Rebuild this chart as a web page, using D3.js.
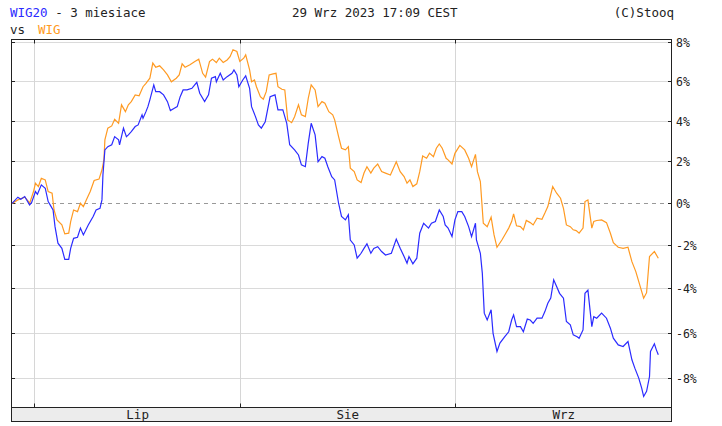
<!DOCTYPE html>
<html>
<head>
<meta charset="utf-8">
<script src="https://cdn.jsdelivr.net/npm/d3@7"></script>
<style>
  body { margin: 0; background: #fff; }
  text { font-family: "DejaVu Sans Mono", monospace; fill: #222; }
</style>
</head>
<body>
<div id="chart"></div>
<script>
// data: [session index, % change]
var wig20 = [[0,0.0],[0.6,0.30],[0.9,0.20],[1.3,0.33],[1.8,-0.07],[2.0,0.04],[2.4,0.57],[2.6,0.44],[3.0,0.89],[3.4,0.73],[3.7,0.09],[3.9,-0.07],[4.2,-0.31],[4.4,-1.10],[4.7,-1.88],[5.1,-2.12],[5.4,-2.63],[5.8,-2.63],[6.0,-2.12],[6.3,-1.65],[6.7,-1.60],[7.0,-1.17],[7.3,-1.49],[7.8,-1.02],[8.3,-0.62],[8.6,-0.31],[9.0,-0.23],[9.2,0.17],[9.3,1.37],[9.5,2.59],[9.8,2.75],[10.2,2.84],[10.5,3.24],[10.9,3.08],[11.0,2.84],[11.4,3.66],[11.7,3.24],[11.9,3.33],[12.2,3.49],[12.6,3.74],[12.9,3.82],[13.3,4.32],[13.4,4.15],[13.7,4.48],[13.9,4.73],[14.1,5.07],[14.5,5.82],[14.7,5.48],[15.1,5.48],[15.5,5.32],[15.9,4.98],[16.2,4.53],[16.6,4.65],[16.9,4.73],[17.2,5.23],[17.5,5.57],[17.9,5.57],[18.4,5.65],[18.9,5.95],[19.2,5.40],[19.7,4.98],[20.1,5.32],[20.4,6.16],[20.8,6.24],[20.9,5.98],[21.3,6.41],[21.6,6.07],[22.0,6.24],[22.5,6.41],[22.7,6.58],[23.0,6.33],[23.2,5.73],[23.6,6.07],[23.9,6.28],[24.3,5.65],[24.5,4.73],[24.9,4.23],[25.2,3.82],[25.5,3.66],[25.9,3.98],[26.4,5.23],[26.9,5.32],[27.2,4.57],[27.7,4.57],[28.1,3.90],[28.4,2.84],[28.9,2.59],[29.3,2.34],[29.6,1.86],[30.0,1.77],[30.3,2.92],[30.6,3.90],[31.0,3.33],[31.3,2.01],[31.7,2.26],[32.0,2.18],[32.3,1.77],[32.7,1.29],[33.0,1.13],[33.4,0.01],[33.7,-0.62],[34.1,-0.78],[34.4,-0.54],[34.6,-1.73],[35.0,-1.96],[35.3,-2.58],[35.7,-2.35],[36.0,-2.12],[36.3,-1.91],[36.7,-2.35],[37.0,-2.12],[37.4,-2.04],[37.8,-2.27],[38.2,-2.43],[38.8,-2.35],[39.3,-1.69],[39.7,-2.12],[40.1,-2.50],[40.4,-2.81],[40.6,-2.50],[41.0,-2.84],[41.4,-2.58],[41.7,-1.41],[42.1,-0.94],[42.6,-1.17],[42.9,-0.94],[43.3,-0.86],[43.7,-0.31],[44.1,-0.62],[44.3,-1.02],[44.6,-1.17],[45.0,-1.57],[45.3,-0.78],[45.6,-0.39],[46.0,-0.39],[46.3,-0.62],[46.7,-1.10],[47.0,-1.57],[47.4,-0.94],[47.5,-1.73],[47.9,-2.35],[48.1,-3.27],[48.3,-5.10],[48.6,-5.41],[49.0,-4.95],[49.2,-6.01],[49.6,-6.82],[49.9,-6.45],[50.4,-6.16],[50.8,-5.94],[51.1,-5.41],[51.3,-5.18],[51.6,-5.71],[52.0,-5.71],[52.3,-5.94],[52.7,-5.37],[53.0,-5.41],[53.3,-5.56],[53.7,-5.33],[54.2,-5.33],[54.5,-5.03],[54.8,-4.65],[55.1,-4.42],[55.4,-3.58],[55.7,-3.89],[56.0,-4.20],[56.4,-4.42],[56.7,-5.48],[57.1,-5.63],[57.4,-6.08],[57.8,-6.16],[58.0,-6.23],[58.4,-5.86],[58.6,-4.20],[58.9,-4.05],[59.3,-5.71],[59.5,-5.26],[59.8,-5.33],[60.3,-5.10],[60.8,-5.33],[61.2,-5.78],[61.5,-6.23],[62.0,-6.53],[62.5,-6.60],[63.0,-6.38],[63.4,-7.19],[63.7,-7.56],[64.1,-8.00],[64.4,-8.44],[64.6,-8.80],[64.9,-8.58],[65.2,-7.93],[65.3,-6.82],[65.7,-6.48],[65.9,-6.75],[66.1,-6.97]];

var wig = [[0,0.0],[0.6,0.17],[1.3,0.30],[1.7,0.09],[1.8,0.0],[2.2,0.57],[2.4,0.97],[2.7,0.81],[3.0,1.21],[3.4,1.13],[3.7,0.57],[4.1,0.49],[4.3,-0.31],[4.6,-0.78],[5.1,-1.02],[5.4,-1.44],[5.8,-1.41],[6.0,-0.86],[6.3,-0.31],[6.7,-0.39],[7.0,0.01],[7.3,-0.15],[7.6,0.17],[8.0,0.57],[8.4,1.10],[8.9,1.17],[9.2,1.61],[9.4,2.10],[9.5,3.08],[9.8,3.66],[10.2,3.77],[10.5,4.10],[10.9,3.90],[11.2,4.82],[11.6,4.48],[11.9,4.82],[12.2,4.98],[12.6,5.32],[13.0,5.27],[13.4,5.73],[13.7,5.90],[14.1,6.16],[14.4,6.93],[14.7,6.72],[15.1,6.79],[15.5,6.58],[15.9,6.33],[16.3,5.98],[16.8,6.16],[17.1,6.33],[17.4,6.89],[17.7,6.72],[18.2,6.84],[18.7,7.01],[19.1,7.13],[19.5,6.41],[19.8,6.21],[20.2,7.01],[20.5,7.13],[20.9,6.96],[21.2,7.18],[21.6,6.96],[22.0,7.09],[22.3,7.26],[22.6,7.61],[23.0,7.52],[23.3,7.01],[23.7,7.18],[23.9,7.35],[24.3,6.58],[24.5,5.98],[24.8,6.07],[25.0,5.73],[25.4,5.23],[25.7,5.10],[26.0,5.48],[26.3,6.33],[26.7,6.38],[27.0,6.41],[27.2,5.73],[27.6,5.60],[27.9,5.57],[28.2,4.07],[28.6,3.93],[28.9,4.23],[29.3,4.82],[29.6,4.32],[30.0,4.23],[30.3,5.15],[30.6,5.82],[31.0,5.57],[31.3,4.73],[31.7,4.98],[32.0,4.90],[32.4,4.48],[32.8,4.32],[33.0,4.07],[33.4,3.24],[33.7,2.67],[34.1,2.59],[34.4,2.75],[34.6,1.70],[35.0,1.53],[35.3,1.13],[35.7,1.00],[36.0,1.46],[36.3,1.77],[36.7,1.46],[37.0,1.70],[37.4,1.90],[37.8,1.53],[38.2,1.46],[38.7,1.37],[39.3,2.01],[39.7,1.53],[40.1,1.29],[40.4,0.97],[40.7,1.13],[41.0,0.81],[41.4,0.94],[41.7,1.53],[42.0,2.29],[42.4,2.18],[42.7,2.43],[43.1,2.26],[43.4,2.67],[43.7,2.88],[44.0,2.67],[44.4,2.18],[44.6,2.10],[45.0,1.90],[45.3,2.42],[45.8,2.81],[46.3,2.59],[46.7,2.18],[47.0,1.77],[47.4,2.37],[47.6,1.53],[47.9,1.05],[48.2,-0.94],[48.6,-1.10],[49.0,-0.65],[49.3,-1.49],[49.6,-2.07],[50.1,-1.73],[50.5,-1.41],[50.8,-1.17],[51.1,-0.86],[51.3,-0.50],[51.6,-1.06],[52.0,-1.10],[52.3,-1.25],[52.6,-0.81],[53.0,-0.91],[53.3,-1.02],[53.7,-0.70],[54.2,-0.75],[54.5,-0.46],[54.8,-0.15],[55.3,0.81],[55.7,0.49],[56.1,0.25],[56.4,-0.23],[56.7,-1.02],[57.1,-1.10],[57.4,-1.25],[57.7,-1.29],[58.0,-1.41],[58.4,-1.17],[58.6,0.09],[58.9,0.17],[59.3,-1.17],[59.5,-0.86],[59.8,-0.81],[60.3,-0.78],[60.8,-0.91],[61.2,-1.41],[61.5,-1.85],[62.0,-2.07],[62.5,-2.12],[63.0,-2.07],[63.4,-2.74],[63.8,-3.20],[64.2,-3.81],[64.6,-4.42],[64.9,-4.17],[65.2,-2.50],[65.7,-2.27],[66.1,-2.58]];

var yTicks = [8, 6, 4, 2, 0, -2, -4, -6, -8];
var monthStarts = [2.35, 23.35, 45.35];
var monthLabels = ["Lip", "Sie", "Wrz"];
var sessionsShown = 67.5;
var pctRange = [-9.28, 8.14];

var svgWidth = 722, svgHeight = 426;
var plot = { left: 12, right: 672, top: 39.5, bottom: 407.5, band: 421.5 };

var svg = d3.select("#chart").append("svg")
  .attr("width", svgWidth)
  .attr("height", svgHeight);

var xScale = d3.scaleLinear()
  .domain([0, sessionsShown])
  .range([plot.left, plot.right]);

// log scale on (1 + pct/100)
var yLog = d3.scaleLog()
  .domain([1 + pctRange[0] / 100, 1 + pctRange[1] / 100])
  .range([plot.bottom, plot.top]);
var yScale = function(p) { return yLog(1 + p / 100); };
var crisp = function(v) { return Math.round(v - 0.5) + 0.5; };

// axis band
svg.append("rect")
  .attr("x", 11.5).attr("y", plot.bottom)
  .attr("width", 660).attr("height", plot.band - plot.bottom)
  .attr("fill", "#ececec");

// horizontal grid
yTicks.forEach(function(t) {
  var y = crisp(yScale(t));
  svg.append("line")
    .attr("x1", 12).attr("x2", 671)
    .attr("y1", y).attr("y2", y)
    .attr("stroke", t === 0 ? "#999" : "#dadada")
    .attr("stroke-dasharray", t === 0 ? "4,4" : null);
  svg.append("line")
    .attr("x1", 668).attr("x2", 672).attr("y1", y).attr("y2", y)
    .attr("stroke", "#222");
  svg.append("line")
    .attr("x1", 11.5).attr("x2", 15).attr("y1", y).attr("y2", y)
    .attr("stroke", "#222");
  svg.append("text")
    .attr("x", 676).attr("y", y + 4)
    .attr("font-size", "11.5px")
    .text(t + "%");
});

// vertical grid at month starts
monthStarts.forEach(function(m) {
  var x = crisp(xScale(m));
  svg.append("line")
    .attr("x1", x).attr("x2", x).attr("y1", plot.top).attr("y2", plot.bottom)
    .attr("stroke", "#d6d6d6");
  svg.append("line")
    .attr("x1", x).attr("x2", x).attr("y1", plot.top).attr("y2", plot.top + 4)
    .attr("stroke", "#222");
  svg.append("line")
    .attr("x1", x).attr("x2", x).attr("y1", plot.bottom - 4).attr("y2", plot.bottom)
    .attr("stroke", "#222");
});

// month labels centred in each month
monthLabels.forEach(function(lbl, i) {
  var a = xScale(monthStarts[i]);
  var b = i + 1 < monthStarts.length ? xScale(monthStarts[i + 1]) : plot.right;
  svg.append("text")
    .attr("x", (a + b) / 2).attr("y", 418.5)
    .attr("text-anchor", "middle")
    .attr("font-size", "12.5px")
    .text(lbl);
});

// frame
svg.append("rect")
  .attr("x", 11.5).attr("y", plot.top)
  .attr("width", 660).attr("height", plot.band - plot.top)
  .attr("fill", "none").attr("stroke", "#222");
svg.append("line")
  .attr("x1", 11.5).attr("x2", 671.5).attr("y1", plot.bottom).attr("y2", plot.bottom)
  .attr("stroke", "#222");

var line = d3.line()
  .x(function(d) { return xScale(d[0]); })
  .y(function(d) { return yScale(d[1]); });

svg.append("path").datum(wig)
  .attr("d", line).attr("fill", "none")
  .attr("stroke", "#ff9a22").attr("stroke-width", 1.2);

svg.append("path").datum(wig20)
  .attr("d", line).attr("fill", "none")
  .attr("stroke", "#2b2bff").attr("stroke-width", 1.2);

// header texts
var t1 = svg.append("text").attr("x", 10).attr("y", 17).attr("font-size", "12.5px");
t1.append("tspan").style("fill", "#2b2bff").text("WIG20");
t1.append("tspan").text(" - 3 miesiace");

svg.append("text").attr("x", 10).attr("y", 34).attr("font-size", "12.5px").text("vs");
svg.append("text").attr("x", 38).attr("y", 34).attr("font-size", "12.5px")
  .style("fill", "#ff9a22").text("WIG");

svg.append("text").attr("x", 292).attr("y", 17).attr("font-size", "12.5px")
  .text("29 Wrz 2023 17:09 CEST");
svg.append("text").attr("x", 674).attr("y", 17).attr("font-size", "12.5px")
  .attr("text-anchor", "end").text("(C)Stooq");
</script>
</body>
</html>
